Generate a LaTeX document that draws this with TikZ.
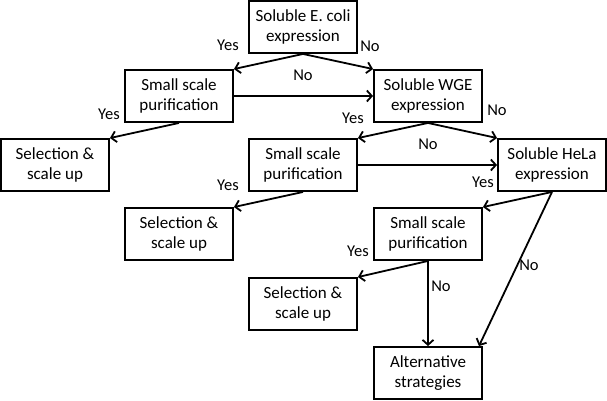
\documentclass[tikz,border=0pt]{standalone}
\usepackage{fontspec}
\setmainfont{Carlito}
\usetikzlibrary{arrows.meta,calc}
\begin{document}
\begin{tikzpicture}[x=1pt,y=-1pt,
  box/.style={draw,line width=1.9pt,minimum width=108pt,minimum height=52pt,align=center,inner sep=0pt,
    font=\fontsize{17}{20.5}\selectfont},
  arr/.style={line width=1.8pt,-{Straight Barb[length=5pt,width=11pt,line width=1.8pt]}},
  lbl/.style={font=\fontsize{16.5}{18}\selectfont,inner sep=0pt}]
\useasboundingbox (0,0) rectangle (607,400);
\node[box] (A) at (303,27) {Soluble E. coli\\expression};
\node[box] (B) at (179,96) {Small scale\\purification};
\node[box] (C) at (428,96) {Soluble WGE\\expression};
\node[box] (D) at (55,165) {Selection \&\\scale up};
\node[box] (E) at (303,165) {Small scale\\purification};
\node[box] (F) at (552,165) {Soluble HeLa\\expression};
\node[box] (G) at (179,234) {Selection \&\\scale up};
\node[box] (H) at (428,234) {Small scale\\purification};
\node[box] (I) at (303,304) {Selection \&\\scale up};
\node[box] (J) at (428,373) {Alternative\\strategies};
\coordinate (Jt) at ($(J.north east)+(-4,0)$);
\draw[arr] (A.south) -- (B.north east);
\draw[arr] (A.south) -- (C.north west);
\draw[arr] (B.east) -- (C.west);
\draw[arr] (B.south) -- (D.north east);
\draw[arr] (C.south) -- (E.north east);
\draw[arr] (C.south) -- (F.north west);
\draw[arr] (E.east) -- (F.west);
\draw[arr] (E.south) -- (G.north east);
\draw[arr] (F.south) -- (H.north east);
\draw[arr] (F.south) -- (Jt);
\draw[arr] (H.south) -- (I.north east);
\draw[arr] (H.south) -- (J.north);
\node[lbl] (l1) at (228,45) {Yes};
\node[lbl] (l2) at (370,46) {No};
\node[lbl] (l3) at (303,75) {No};
\node[lbl] (l4) at (109,114) {Yes};
\node[lbl] (l5) at (353,118) {Yes};
\node[lbl] (l6) at (497,110) {No};
\node[lbl] (l7) at (428,144) {No};
\node[lbl] (l8) at (228,185) {Yes};
\node[lbl] (l9) at (483,182) {Yes};
\node[lbl] (l10) at (529,265) {No};
\node[lbl] (l11) at (358,251) {Yes};
\node[lbl] (l12) at (441,286) {No};
\end{tikzpicture}
\end{document}
